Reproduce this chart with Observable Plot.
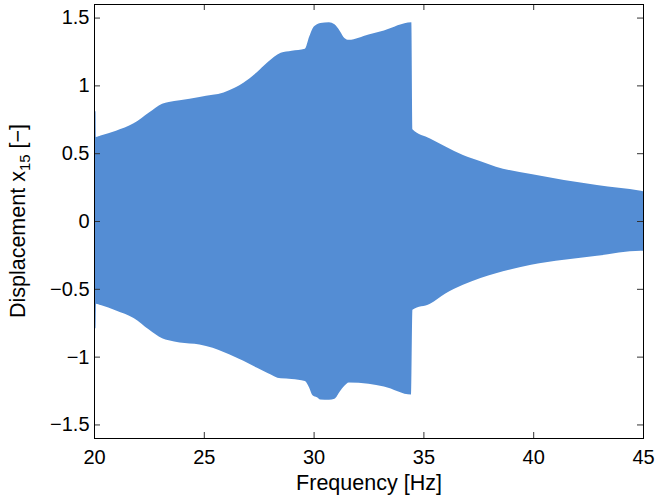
<!DOCTYPE html>
<html>
<head>
<meta charset="utf-8">
<script src="https://cdn.jsdelivr.net/npm/d3@7"></script>
<script src="https://cdn.jsdelivr.net/npm/@observablehq/plot@0.6"></script>
<style>
  html, body { margin: 0; padding: 0; background: #fff; }
  svg { display: block; }
</style>
</head>
<body>
<div id="chart"></div>
<script>
// Envelope of the displacement response x15 over the frequency sweep
const freq  = [20, 20.07, 20.09, 20.3, 21.0, 21.8, 22.5, 23.1, 23.4, 23.9, 24.8, 25.4, 25.9, 26.4, 26.8, 27.4, 27.9, 28.5, 29.0, 29.6, 29.8, 29.95, 30.15, 30.3, 30.7, 30.95, 31.2, 31.4, 31.6, 32.5, 33.2, 34.45, 34.5, 35.3, 36.0, 36.8, 37.6, 38.3, 39.9, 41.4, 42.9, 44.9, 45];
const upper = [0.81, 0.81, 0.62, 0.63, 0.665, 0.72, 0.80, 0.865, 0.878, 0.89, 0.915, 0.93, 0.948, 0.982, 1.02, 1.095, 1.17, 1.24, 1.255, 1.27, 1.36, 1.42, 1.45, 1.46, 1.465, 1.45, 1.40, 1.35, 1.336, 1.375, 1.405, 1.465, 0.676, 0.608, 0.55, 0.487, 0.44, 0.40, 0.346, 0.302, 0.265, 0.223, 0.22];
const lower = [-0.79, -0.79, -0.61, -0.62, -0.66, -0.715, -0.80, -0.865, -0.88, -0.895, -0.91, -0.935, -0.965, -1.0, -1.03, -1.08, -1.12, -1.16, -1.165, -1.18, -1.23, -1.285, -1.30, -1.316, -1.318, -1.31, -1.255, -1.215, -1.19, -1.20, -1.22, -1.28, -0.654, -0.61, -0.535, -0.47, -0.42, -0.386, -0.323, -0.286, -0.257, -0.22, -0.22];

const xTicks = [20, 25, 30, 35, 40, 45];
const yTicks = [-1.5, -1, -0.5, 0, 0.5, 1, 1.5];

const rows = freq.map((f, i) => ({freq: f, upper: upper[i], lower: lower[i]}));

const W = 656, H = 497;
const mt = 4, mb = 59, ml = 94, mr = 13;
const innerW = W - ml - mr, innerH = H - mt - mb;
const tickLen = 6;
const fmt = d => (d < 0 ? "\u2212" : "") + Math.abs(d);

const chart = Plot.plot({
  width: W,
  height: H,
  marginTop: mt,
  marginBottom: mb,
  marginLeft: ml,
  marginRight: mr,
  style: {fontFamily: "'Liberation Sans', Arial, Helvetica, sans-serif", fontSize: "20px", color: "#000", background: "#fff"},
  x: {domain: [20, 45]},
  y: {domain: [-1.6, 1.6]},
  marks: [
    Plot.areaY(rows, {x: "freq", y1: "lower", y2: "upper", fill: "#548DD4", curve: "monotone-x"}),
    // inward ticks on all four sides of the box
    Plot.tickX(xTicks, {x: d => d, insetTop: innerH - tickLen, stroke: "#333"}),
    Plot.tickX(xTicks, {x: d => d, insetBottom: innerH - tickLen, stroke: "#333"}),
    Plot.tickY(yTicks, {y: d => d, insetRight: innerW - tickLen, stroke: "#333"}),
    Plot.tickY(yTicks, {y: d => d, insetLeft: innerW - tickLen, stroke: "#333"}),
    Plot.frame({stroke: "#000"}),
    Plot.axisX(xTicks, {tickSize: 0, tickPadding: 11, label: null, tickFormat: fmt}),
    Plot.axisY(yTicks, {tickSize: 0, tickPadding: 5, label: null, tickFormat: fmt}),
    Plot.text(["Frequency [Hz]"], {frameAnchor: "bottom", lineAnchor: "bottom", dy: 51, text: d => d, fill: "#000", fontSize: 21.5})
  ]
});

// rotated y-axis title with subscript
const svg = d3.select(chart);
const yt = svg.append("text")
  .attr("transform", `translate(25,${mt + innerH / 2}) rotate(-90)`)
  .attr("text-anchor", "middle")
  .attr("fill", "#000")
  .style("font-size", "21.5px");
yt.append("tspan").text("Displacement x");
yt.append("tspan").style("font-size", "15px").attr("dy", 5).text("15");
yt.append("tspan").attr("dy", -5).text(" [\u2212]");

document.getElementById("chart").appendChild(chart);
</script>
</body>
</html>
